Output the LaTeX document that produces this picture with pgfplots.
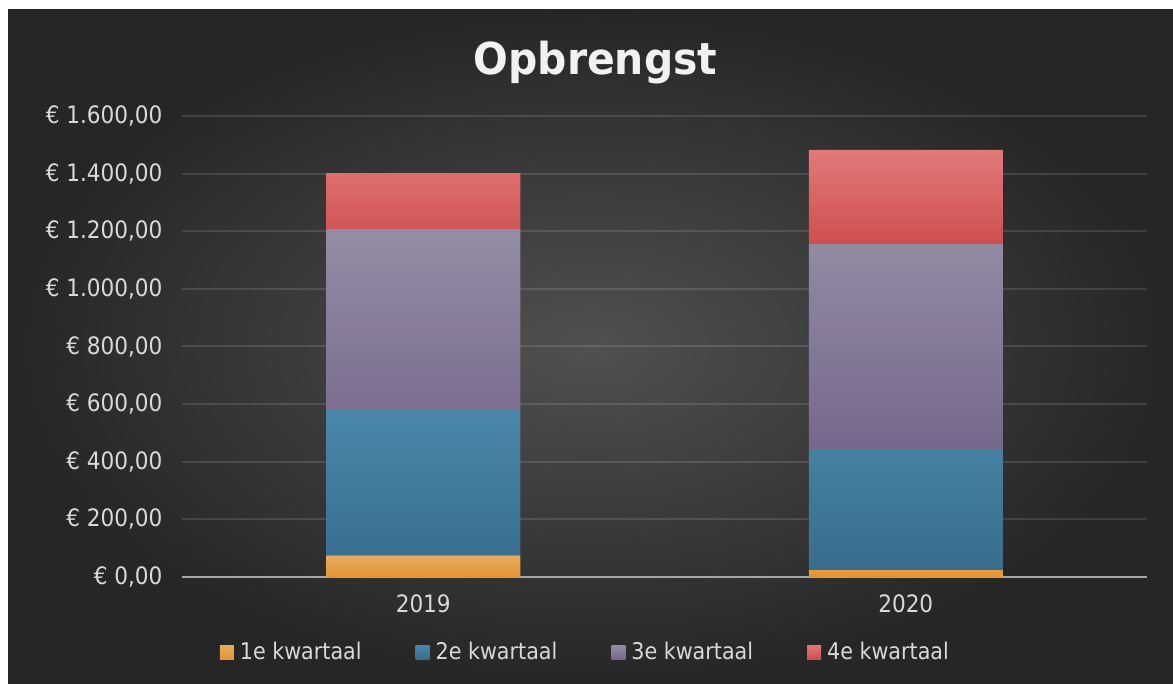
\documentclass[border=0pt]{standalone}
\usepackage{pgfplots}
\pgfplotsset{compat=1.18}
\usepackage{fontspec}
\setmainfont{DejaVu Sans Condensed}
\newfontfamily\titlefont{DejaVu Sans}
\definecolor{bgin}{HTML}{505050}
\definecolor{bgout}{HTML}{262626}
\definecolor{txt}{HTML}{D9D9D9}
\definecolor{titlec}{HTML}{F2F2F2}
\definecolor{qat}{HTML}{E9AB60}
\definecolor{qab}{HTML}{E39434}
\definecolor{qbt}{HTML}{4A87A9}
\definecolor{qbb}{HTML}{386C8C}
\definecolor{qct}{HTML}{958CA5}
\definecolor{qcb}{HTML}{76688C}
\definecolor{qdt}{HTML}{E07A78}
\definecolor{qdb}{HTML}{CF4F50}
\definecolor{axc}{HTML}{A6A6A6}
\begin{document}
\begin{tikzpicture}[x=1bp,y=1bp]
\useasboundingbox (0,0) rectangle (1173,684);
\fill[white] (0,0) rectangle (1173,684);
\shade[inner color=bgin, outer color=bgout] (8,0) rectangle (1173,674);
\node[anchor=base, text=titlec, inner sep=0pt] at (595.5,609) {\scalebox{0.93}[1]{\titlefont\fontsize{44bp}{50bp}\selectfont\bfseries Opbrengst}};
\begin{axis}[
  at={(182bp,107bp)}, anchor=south west, scale only axis,
  width=965bp, height=461bp,
  xmin=-0.5, xmax=1.5, ymin=0, ymax=1600,
  ybar stacked, bar width=194bp,
  xtick={0,1}, xticklabels={2019,2020},
  ytick={0,200,...,1600},
  scaled y ticks=false,
  /pgf/number format/assume math mode=true,
  yticklabel={€ \pgfmathprintnumber[fixed,fixed zerofill,precision=2,use comma,1000 sep={.}]{\tick}},
  axis x line*=bottom, axis y line*=left,
  y axis line style={draw=none},
  x axis line style={draw=axc, line width=2.5bp, -},
  major tick length=0pt,
  tick style={draw=none},
  ymajorgrids, grid style={draw=white, opacity=0.12, line width=2bp},
  ticklabel style={text=txt, font=\fontsize{24bp}{28bp}\selectfont},
  yticklabel style={xshift=-16bp},
  xticklabel style={yshift=-14bp},
  legend columns=4,
  legend style={at={(0.418,-0.1627)}, anchor=center, draw=none, fill=none,
    text=txt, font=\fontsize{23bp}{27bp}\selectfont,
    /tikz/every even column/.append style={column sep=52bp}},
  legend image code/.code={\fill[#1] (0bp,-7bp) rectangle (14bp,7bp); \path (18bp,0bp);},
]
\addplot[draw=none, top color=qat, bottom color=qab] coordinates {(0,75) (1,24)};
\addlegendentry{1e kwartaal}
\addplot[draw=none, top color=qbt, bottom color=qbb] coordinates {(0,505) (1,420)};
\addlegendentry{2e kwartaal}
\addplot[draw=none, top color=qct, bottom color=qcb] coordinates {(0,628) (1,712)};
\addlegendentry{3e kwartaal}
\addplot[draw=none, top color=qdt, bottom color=qdb] coordinates {(0,194) (1,326)};
\addlegendentry{4e kwartaal}
\end{axis}
\end{tikzpicture}
\end{document}
